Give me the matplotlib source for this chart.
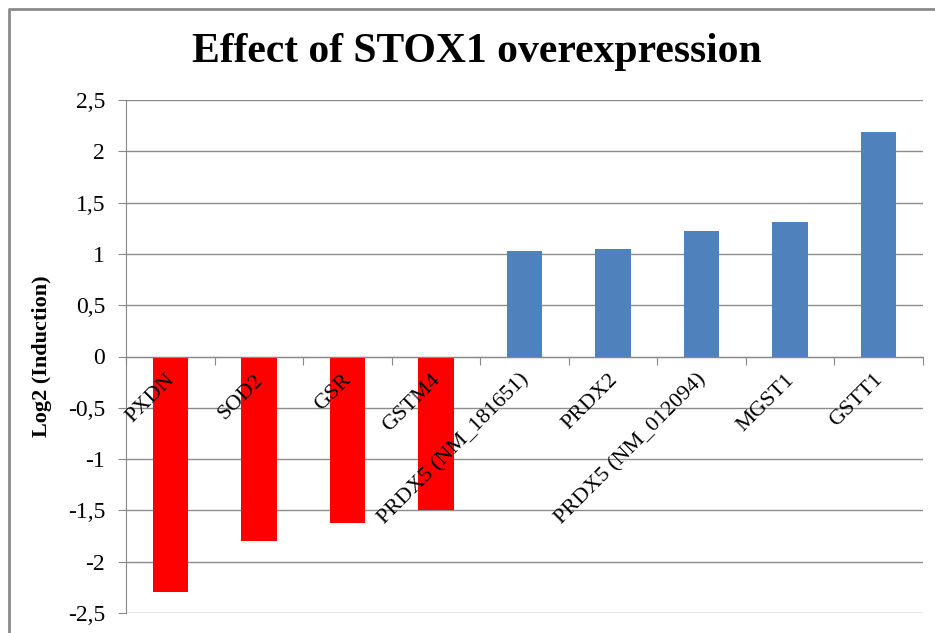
import matplotlib
matplotlib.use("Agg")
from matplotlib import pyplot as plt
from matplotlib.lines import Line2D
import numpy as np

genes = ["PXDN", "SOD2", "GSR", "GSTM4", "PRDX5 (NM_181651)", "PRDX2",
         "PRDX5 (NM_012094)", "MGST1", "GSTT1"]
log2_induction = [-2.30, -1.80, -1.62, -1.50, 1.03, 1.05, 1.22, 1.31, 2.19]
y_ticks = [-2.5, -2, -1.5, -1, -0.5, 0, 0.5, 1, 1.5, 2, 2.5]
y_tick_labels = ["-2,5", "-2", "-1,5", "-1", "-0,5", "0", "0,5", "1", "1,5", "2", "2,5"]

plt.rcParams["font.family"] = ["Liberation Serif", "DejaVu Serif"]

W, H = 935, 633
fig = plt.figure(figsize=(W / 100, H / 100), dpi=100)
ax = fig.add_axes([126 / W, 1 - 613 / H, (923 - 126) / W, (613 - 100) / H])

x = np.arange(len(genes))
colors = ["#ff0000" if v < 0 else "#4f81bd" for v in log2_induction]
ax.bar(x, log2_induction, width=0.4, color=colors, zorder=3)

ax.set_xlim(-0.5, len(genes) - 0.5)
ax.set_ylim(-2.5, 2.5)
ax.set_yticks(y_ticks)
ax.set_yticklabels(y_tick_labels, fontsize=17)
ax.tick_params(axis="y", length=6, color="#888888", pad=9)
ax.yaxis.grid(True, color="#8c8c8c", linewidth=1)
ax.set_axisbelow(True)

for side in ["top", "right"]:
    ax.spines[side].set_visible(False)
ax.spines["left"].set_color("#888888")
ax.spines["bottom"].set_position(("data", 0))
ax.spines["bottom"].set_color("#888888")
ax.spines["bottom"].set_zorder(4)

# category boundary ticks on the zero line
ax.set_xticks(np.arange(-0.5, len(genes), 1.0))
ax.set_xticklabels([])
ax.tick_params(axis="x", length=6, color="#888888", direction="out")

# rotated category labels just under the zero line
for i, g in enumerate(genes):
    ax.annotate(g, xy=(i, 0), xytext=(6, -10), textcoords="offset points",
                rotation=45, ha="right", va="top", fontsize=16, zorder=5)

ax.set_ylabel("Log2 (Induction)", fontsize=16, fontweight="bold")
ax.yaxis.set_label_coords(-0.093, 0.5)

fig.text(477 / W, 1 - 52 / H, "Effect of STOX1 overexpression", ha="center",
         va="center", fontsize=30, fontweight="bold")

# chart frame
fig.add_artist(Line2D([9 / W, 9 / W, 1.0], [0.0, 1 - 9 / H, 1 - 9 / H],
                      transform=fig.transFigure, color="#8a8a8a", linewidth=2))

plt.savefig("out.png", dpi=100)
